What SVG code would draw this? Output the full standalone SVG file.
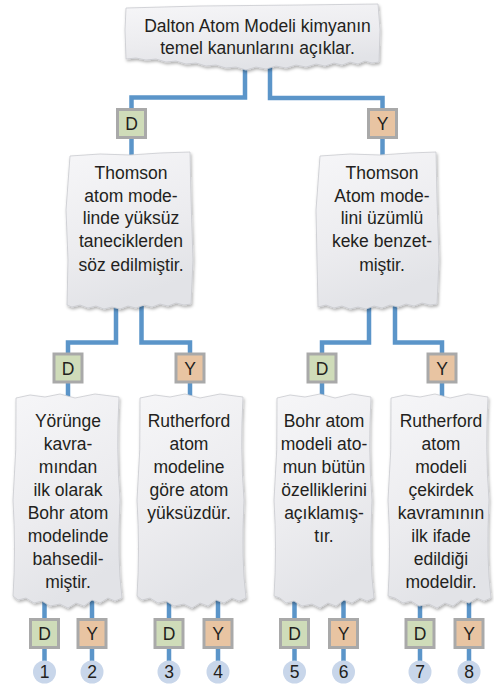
<svg xmlns="http://www.w3.org/2000/svg" width="494" height="684" viewBox="0 0 494 684">
<defs>
<linearGradient id="pg" x1="0" y1="0" x2="0.3" y2="1">
<stop offset="0" stop-color="#f6f6f8"/>
<stop offset="0.6" stop-color="#ececef"/>
<stop offset="1" stop-color="#e2e3e7"/>
</linearGradient>
<filter id="sh" x="-10%" y="-10%" width="120%" height="125%">
<feDropShadow dx="1" dy="2" stdDeviation="1.6" flood-color="#000" flood-opacity="0.3"/>
</filter>
<style>
.paper{fill:url(#pg);stroke:#c9cacf;stroke-width:0.8;filter:url(#sh)}
.t{font-family:"Liberation Sans",Arial,Helvetica,sans-serif;font-size:17.5px;fill:#231f20;text-anchor:middle}
.c{fill:none;stroke:#5b95c9;stroke-width:4.5;stroke-linejoin:miter}
.d{fill:#cfdcb9;stroke:#a9a9a9;stroke-width:3}
.y{fill:#e8c4a2;stroke:#a9a9a9;stroke-width:3}
.n{fill:#c8d6ea}
</style>
</defs>
<rect width="494" height="684" fill="#ffffff"/>

<g id="connectors">
<path class="c" d="M245 66 V97.5 H131.5 V110"/>
<path class="c" d="M270 66 V98 H382.5 V110"/>
<path class="c" d="M131.5 137 V156"/>
<path class="c" d="M382.5 137 V156"/>
<path class="c" d="M116 306 V342.5 H68 V355"/>
<path class="c" d="M141.5 306 V342.5 H190 V355"/>
<path class="c" d="M369 306 V342.5 H322 V355"/>
<path class="c" d="M395 306 V342.5 H442 V355"/>
<path class="c" d="M68 382 V398"/>
<path class="c" d="M190 382 V398"/>
<path class="c" d="M322 382 V398"/>
<path class="c" d="M442 382 V398"/>
<path class="c" d="M44.5 600 V620 M44.5 648 V662"/>
<path class="c" d="M92 600 V620 M92 648 V662"/>
<path class="c" d="M169 600 V620 M169 648 V662"/>
<path class="c" d="M218 600 V620 M218 648 V662"/>
<path class="c" d="M294.5 600 V620 M294.5 648 V662"/>
<path class="c" d="M343.5 600 V620 M343.5 648 V662"/>
<path class="c" d="M420 600 V620 M420 648 V662"/>
<path class="c" d="M469 600 V620 M469 648 V662"/>
</g>

<g id="n-top">
<path class="paper" d="M126 8 L200 6 L300 5 L378 4 L380 30 L379 62 L372 63 L365 61 L358 64 L350 62 L342 65 L334 63 L325 66 L316 64 L306 67 L296 65 L286 68 L276 66 L266 69 L256 67 L246 70 L236 67 L226 68 L216 65 L206 66 L196 63 L186 64 L176 61 L166 62 L156 59 L146 60 L136 58 L126 59 L125 30 Z"/>
<text class="t" x="257.5" y="32">Dalton Atom Modeli kimyanın</text>
<text class="t" x="257.5" y="54">temel kanunlarını açıklar.</text>
</g>

<g id="n-top-d"><rect class="d" x="117.5" y="109.5" width="28" height="28"/><text class="t" x="131.5" y="130">D</text></g>
<g id="n-top-y"><rect class="y" x="368.5" y="109.5" width="28" height="28"/><text class="t" x="382.5" y="130">Y</text></g>

<g id="n-l2a">
<path class="paper" d="M70 156 L100 154 L130 155 L160 153 L190 152 L191 200 L193 260 L191 304 L184 305 L176 303 L168 306 L160 304 L152 307 L144 305 L136 308 L128 306 L120 309 L112 307 L104 309 L96 306 L88 308 L80 305 L72 307 L67 305 L68 260 L66 210 Z"/>
<text class="t" x="131" y="179">Thomson</text>
<text class="t" x="131" y="202">atom mode-</text>
<text class="t" x="131" y="224">linde yüksüz</text>
<text class="t" x="131" y="247">taneciklerden</text>
<text class="t" x="131" y="271">söz edilmiştir.</text>
</g>

<g id="n-l2b">
<path class="paper" d="M320 156 L350 154 L380 155 L410 153 L436 152 L437 200 L439 260 L437 304 L430 305 L422 303 L414 306 L406 304 L398 307 L390 305 L382 308 L374 306 L366 309 L358 307 L350 309 L342 306 L334 308 L326 305 L318 307 L317 260 L316 210 Z"/>
<text class="t" x="382" y="179">Thomson</text>
<text class="t" x="382" y="202">Atom mode-</text>
<text class="t" x="382" y="224">lini üzümlü</text>
<text class="t" x="382" y="247">keke benzet-</text>
<text class="t" x="382" y="271">miştir.</text>
</g>

<g id="n-l2a-d"><rect class="d" x="54" y="354" width="28" height="28"/><text class="t" x="68" y="374.5">D</text></g>
<g id="n-l2a-y"><rect class="y" x="176" y="354" width="28" height="28"/><text class="t" x="190" y="374.5">Y</text></g>
<g id="n-l2b-d"><rect class="d" x="308" y="354" width="28" height="28"/><text class="t" x="322" y="374.5">D</text></g>
<g id="n-l2b-y"><rect class="y" x="428" y="354" width="28" height="28"/><text class="t" x="442" y="374.5">Y</text></g>

<g id="n-l3a">
<path class="paper" d="M16 398 L30 395 L45 397 L60 394 L75 398 L95 394 L119 397 Q116 450 120 500 Q117 560 122 598 L115 601 L108 598 L100 603 L92 600 L84 606 L76 603 L68 608 L60 604 L50 606 L42 601 L34 603 L26 598 L18 600 L13 596 Q16 550 13 500 Q17 450 16 398 Z"/>
<text class="t" x="68" y="427">Yörünge</text>
<text class="t" x="68" y="450">kavra-</text>
<text class="t" x="68" y="473">mından</text>
<text class="t" x="68" y="496">ilk olarak</text>
<text class="t" x="68" y="519">Bohr atom</text>
<text class="t" x="68" y="542">modelinde</text>
<text class="t" x="68" y="565">bahsedil-</text>
<text class="t" x="68" y="588">miştir.</text>
</g>

<g id="n-l3b">
<path class="paper" d="M140 398 L155 395 L170 397 L185 394 L200 398 L220 394 L243 397 Q240 450 244 500 Q241 560 246 598 L239 601 L232 598 L224 603 L216 600 L208 606 L200 603 L192 608 L184 604 L174 606 L166 601 L158 603 L150 598 L142 600 L137 596 Q140 550 137 500 Q141 450 140 398 Z"/>
<text class="t" x="189" y="427">Rutherford</text>
<text class="t" x="189" y="450">atom</text>
<text class="t" x="189" y="473">modeline</text>
<text class="t" x="189" y="496">göre atom</text>
<text class="t" x="189" y="519">yüksüzdür.</text>
</g>

<g id="n-l3c">
<path class="paper" d="M277 398 L290 395 L305 397 L320 394 L335 398 L352 394 L371 397 Q368 450 372 500 Q369 560 374 598 L367 601 L360 598 L352 603 L344 600 L336 606 L328 603 L320 608 L312 604 L302 606 L294 601 L286 603 L280 598 L274 596 Q277 550 274 500 Q278 450 277 398 Z"/>
<text class="t" x="324" y="427">Bohr atom</text>
<text class="t" x="324" y="450">modeli ato-</text>
<text class="t" x="324" y="473">mun bütün</text>
<text class="t" x="324" y="496">özelliklerini</text>
<text class="t" x="324" y="519">açıklamış-</text>
<text class="t" x="324" y="542">tır.</text>
</g>

<g id="n-l3d">
<path class="paper" d="M391 398 L405 395 L420 397 L435 394 L450 398 L468 394 L488 397 Q485 450 489 500 Q486 560 491 598 L484 601 L477 598 L469 603 L461 600 L453 606 L445 603 L437 608 L429 604 L419 606 L411 601 L403 603 L395 598 L388 596 Q391 550 388 500 Q392 450 391 398 Z"/>
<text class="t" x="441" y="427">Rutherford</text>
<text class="t" x="441" y="450">atom</text>
<text class="t" x="441" y="473">modeli</text>
<text class="t" x="441" y="496">çekirdek</text>
<text class="t" x="441" y="519">kavramının</text>
<text class="t" x="441" y="542">ilk ifade</text>
<text class="t" x="441" y="565">edildiği</text>
<text class="t" x="441" y="588">modeldir.</text>
</g>

<g id="n-b1"><rect class="d" x="30.5" y="619.5" width="28" height="28"/><text class="t" x="44.5" y="640">D</text><circle class="n" cx="44.5" cy="672" r="11.5"/><text class="t" x="44.5" y="678">1</text></g>
<g id="n-b2"><rect class="y" x="78" y="619.5" width="28" height="28"/><text class="t" x="92" y="640">Y</text><circle class="n" cx="92" cy="672" r="11.5"/><text class="t" x="92" y="678">2</text></g>
<g id="n-b3"><rect class="d" x="155" y="619.5" width="28" height="28"/><text class="t" x="169" y="640">D</text><circle class="n" cx="169" cy="672" r="11.5"/><text class="t" x="169" y="678">3</text></g>
<g id="n-b4"><rect class="y" x="204" y="619.5" width="28" height="28"/><text class="t" x="218" y="640">Y</text><circle class="n" cx="218" cy="672" r="11.5"/><text class="t" x="218" y="678">4</text></g>
<g id="n-b5"><rect class="d" x="280.5" y="619.5" width="28" height="28"/><text class="t" x="294.5" y="640">D</text><circle class="n" cx="294.5" cy="672" r="11.5"/><text class="t" x="294.5" y="678">5</text></g>
<g id="n-b6"><rect class="y" x="329.5" y="619.5" width="28" height="28"/><text class="t" x="343.5" y="640">Y</text><circle class="n" cx="343.5" cy="672" r="11.5"/><text class="t" x="343.5" y="678">6</text></g>
<g id="n-b7"><rect class="d" x="406" y="619.5" width="28" height="28"/><text class="t" x="420" y="640">D</text><circle class="n" cx="420" cy="672" r="11.5"/><text class="t" x="420" y="678">7</text></g>
<g id="n-b8"><rect class="y" x="455" y="619.5" width="28" height="28"/><text class="t" x="469" y="640">Y</text><circle class="n" cx="469" cy="672" r="11.5"/><text class="t" x="469" y="678">8</text></g>
</svg>
